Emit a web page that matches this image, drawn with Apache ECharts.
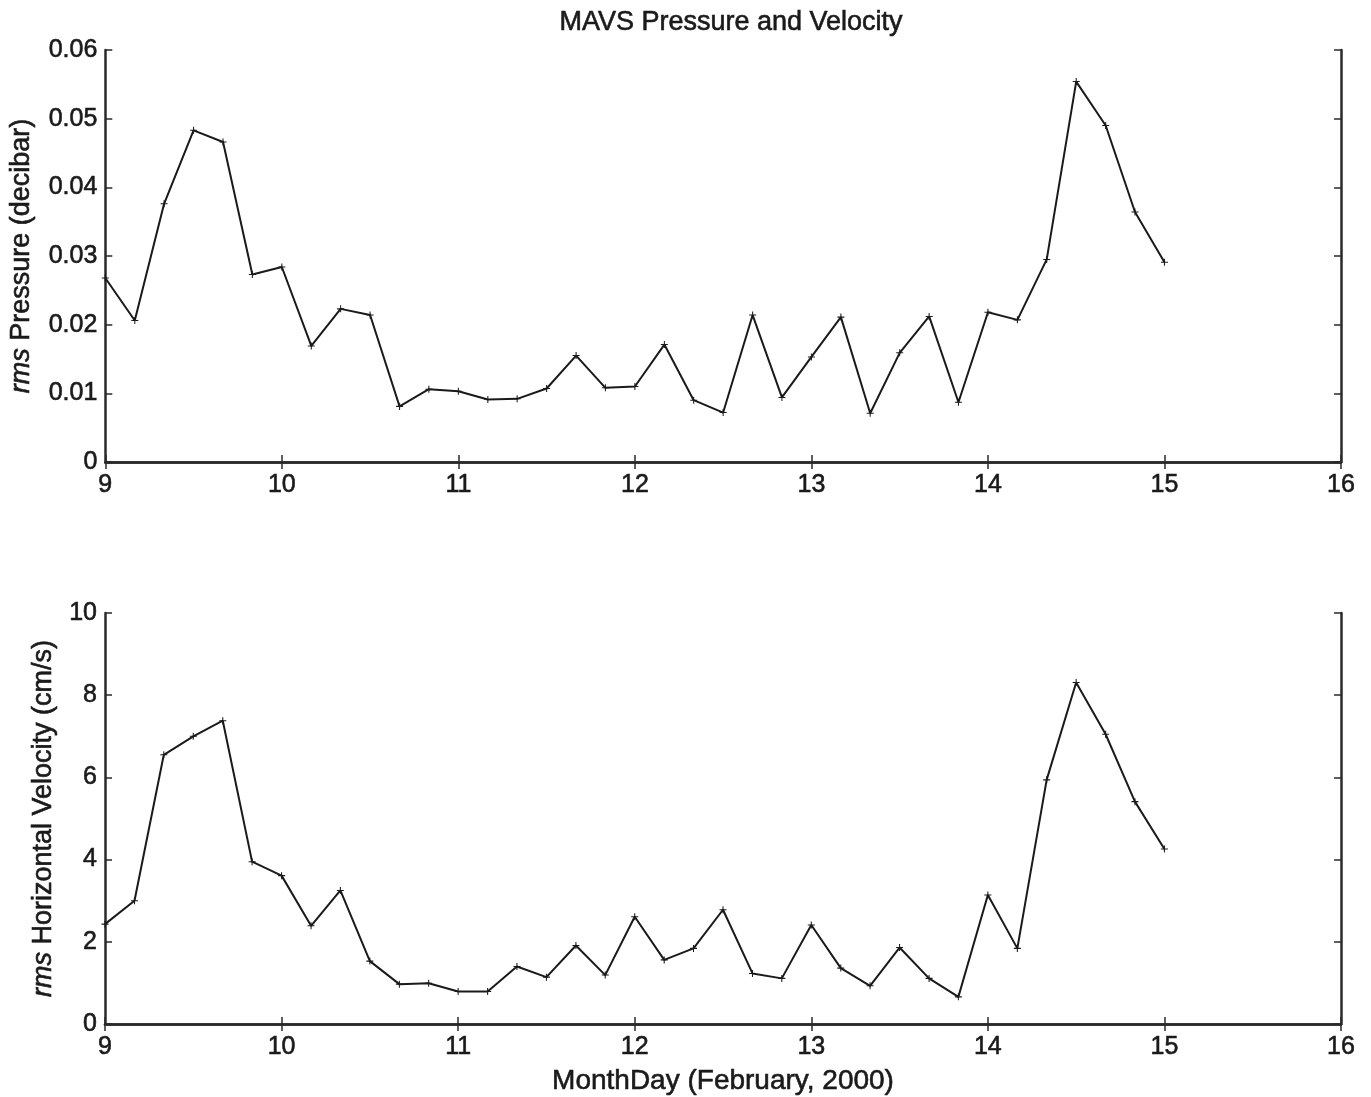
<!DOCTYPE html>
<html>
<head>
<meta charset="utf-8">
<script src="https://cdn.jsdelivr.net/npm/echarts@6/dist/echarts.min.js"></script>
<style>
html,body{margin:0;padding:0;background:#fff;}
#c{width:1371px;height:1097px;}
</style>
</head>
<body>
<div id="c"></div>
<script>
// Time in days (February 2000), every 4 hours
const days = [9.000, 9.167, 9.333, 9.500, 9.667, 9.833, 10.000, 10.167, 10.333, 10.500, 10.667, 10.833,
  11.000, 11.167, 11.333, 11.500, 11.667, 11.833, 12.000, 12.167, 12.333, 12.500, 12.667, 12.833,
  13.000, 13.167, 13.333, 13.500, 13.667, 13.833, 14.000, 14.167, 14.333, 14.500, 14.667, 14.833, 15.000];
// rms pressure (decibar)
const pressure = [0.0268, 0.0206, 0.0376, 0.0483, 0.0466, 0.0273, 0.0284, 0.0169, 0.0223, 0.0214, 0.0081, 0.0106,
  0.0103, 0.0091, 0.0092, 0.0107, 0.0155, 0.0108, 0.0110, 0.0171, 0.0090, 0.0072, 0.0214, 0.0094,
  0.0153, 0.0211, 0.0071, 0.0159, 0.0212, 0.0087, 0.0218, 0.0207, 0.0295, 0.0554, 0.0490, 0.0364, 0.0291];
// rms horizontal velocity (cm/s)
const velocity = [2.43, 3.00, 6.55, 7.00, 7.38, 3.95, 3.61, 2.39, 3.25, 1.53, 0.97, 0.99,
  0.79, 0.79, 1.40, 1.14, 1.91, 1.19, 2.61, 1.56, 1.84, 2.78, 1.23, 1.11,
  2.41, 1.36, 0.93, 1.86, 1.11, 0.66, 3.14, 1.84, 5.94, 8.31, 7.05, 5.41, 4.26];
const xTicks = [9, 10, 11, 12, 13, 14, 15, 16];

const titleText = 'MAVS Pressure and Velocity';
const xName = 'MonthDay (February, 2000)';

const FONT = 'Liberation Sans, Arial, Helvetica, sans-serif';
const INK = '#1a1a1a';
const STROKE = {textBorderColor: '#1a1a1a', textBorderWidth: 0.6};
const plusSym = 'path://M-0.6,-4H0.6V-0.6H4V0.6H0.6V4H-0.6V0.6H-4V-0.6H-0.6Z';

function xAxes(gridIndex, withName) {
  const base = {
    type: 'value', gridIndex, min: xTicks[0], max: xTicks[xTicks.length - 1], interval: 1,
    axisLine: {show: true, lineStyle: {color: '#2a2a2a', width: 2.5}},
    axisTick: {show: true, inside: true, length: 7, lineStyle: {color: '#2a2a2a', width: 1.5}},
    splitLine: {show: false}
  };
  return [
    Object.assign({}, base, {
      position: 'bottom',
      axisLabel: Object.assign({show: true, fontSize: 25, color: INK, fontFamily: FONT, margin: 11}, STROKE),
      name: withName ? xName : '',
      nameLocation: 'middle', nameGap: 43,
      nameTextStyle: Object.assign({fontSize: 28, color: INK, fontFamily: FONT}, STROKE)
    }),
    Object.assign({}, base, {position: 'top', axisLabel: {show: false}})
  ];
}
function yAxes(gridIndex, max, interval, nameMain, gap, fmt) {
  const base = {
    type: 'value', gridIndex, min: 0, max, interval,
    axisLine: {show: true, lineStyle: {color: '#2a2a2a', width: 2.5}},
    axisTick: {show: true, inside: true, length: 7, lineStyle: {color: '#2a2a2a', width: 1.5}},
    splitLine: {show: false}
  };
  return [
    Object.assign({}, base, {
      position: 'left',
      axisLabel: Object.assign({show: true, fontSize: 25, color: INK, fontFamily: FONT, margin: 8, formatter: fmt}, STROKE),
      name: '{i|rms} ' + nameMain,
      nameLocation: 'middle', nameRotate: 90, nameGap: gap,
      nameTextStyle: Object.assign({fontSize: 27, color: INK, fontFamily: FONT,
        rich: {i: Object.assign({fontStyle: 'italic', fontSize: 27, color: INK, fontFamily: FONT}, STROKE)}}, STROKE)
    }),
    Object.assign({}, base, {position: 'right', axisLabel: {show: false}})
  ];
}

const chart = echarts.init(document.getElementById('c'), null, {renderer: 'canvas'});
const xa = xAxes(0, false).concat(xAxes(1, true));
const ya = yAxes(0, 0.06, 0.01, 'Pressure (decibar)', 70, v => v === 0 ? '0' : v.toFixed(2))
  .concat(yAxes(1, 10, 2, 'Horizontal Velocity (cm/s)', 48, v => String(v)));

chart.setOption({
  backgroundColor: '#fff',
  animation: false,
  title: {text: titleText, left: 726, textAlign: 'center', top: 4,
    textStyle: Object.assign({fontSize: 27, fontWeight: 'normal', color: INK, fontFamily: FONT}, STROKE)},
  grid: [
    {left: 105, top: 50, width: 1236, height: 412},
    {left: 105, top: 613, width: 1236, height: 411}
  ],
  xAxis: xa,
  yAxis: ya,
  series: [
    {type: 'line', xAxisIndex: 0, yAxisIndex: 0, data: days.map((d, i) => [d, pressure[i]]),
      symbol: plusSym, symbolSize: 7, showSymbol: true,
      lineStyle: {color: INK, width: 2}, itemStyle: {color: INK}},
    {type: 'line', xAxisIndex: 2, yAxisIndex: 2, data: days.map((d, i) => [d, velocity[i]]),
      symbol: plusSym, symbolSize: 7, showSymbol: true,
      lineStyle: {color: INK, width: 2}, itemStyle: {color: INK}}
  ]
});
</script>
</body>
</html>
